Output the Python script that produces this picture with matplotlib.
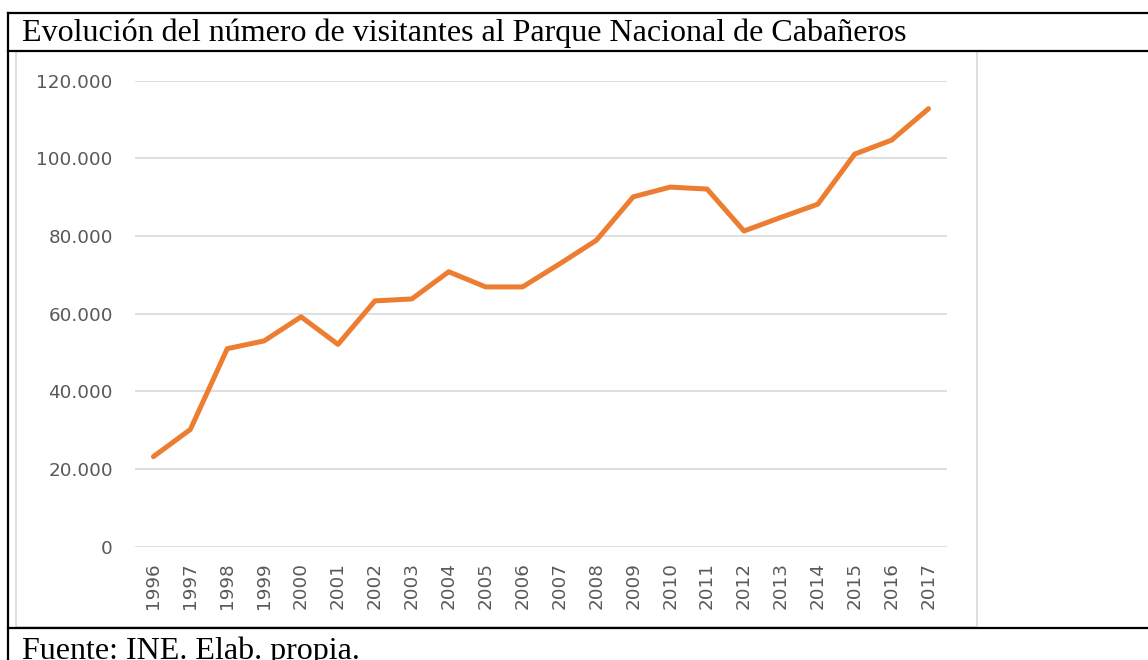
import matplotlib.pyplot as plt
from matplotlib.lines import Line2D
from matplotlib.patches import Rectangle
from matplotlib.ticker import FuncFormatter

# data
years = [str(y) for y in range(1996, 2018)]
visitors = [23200, 30200, 51000, 53000, 59200, 52100, 63300, 63800, 70800, 66900,
            66900, 72800, 78900, 90100, 92600, 92100, 81300, 84800, 88200, 101100,
            104700, 112800]
y_ticks = [0, 20000, 40000, 60000, 80000, 100000, 120000]

title = "Evolución del número de visitantes al Parque Nacional de Cabañeros"
source = "Fuente: INE. Elab. propia."

W, H = 1148, 660
fig = plt.figure(figsize=(W / 100, H / 100), dpi=100)

def fx(px):
    return px / W

def fy(py):
    return 1 - py / H

# chart frame (light gray box, like the embedded Excel chart)
fig.add_artist(Rectangle((fx(16), fy(627)), fx(977) - fx(16), fy(51) - fy(627),
                         transform=fig.transFigure, fill=False,
                         edgecolor="#d9d9d9", linewidth=1.2))

# table borders
for y in (13, 51, 628):
    fig.add_artist(Line2D([fx(8), 1], [fy(y), fy(y)], transform=fig.transFigure,
                          color="black", linewidth=1.6))
fig.add_artist(Line2D([fx(8), fx(8)], [fy(13), 0], transform=fig.transFigure,
                      color="black", linewidth=1.6))

fig.text(fx(22), fy(41), title, family="Liberation Serif", fontsize=23,
         color="black", ha="left", va="baseline")
fig.text(fx(22), fy(659), source, family="Liberation Serif", fontsize=23,
         color="black", ha="left", va="baseline")

ax = fig.add_axes([fx(135), fy(546.7), fx(947) - fx(135), fy(80.7) - fy(546.7)])
x = list(range(len(years)))
ax.plot(x, visitors, color="#ED7D31", linewidth=3.6, solid_capstyle="round",
        solid_joinstyle="round")

ax.set_xlim(-0.5, len(years) - 0.5)
ax.set_ylim(0, 120000)
ax.set_yticks(y_ticks)
ax.yaxis.set_major_formatter(FuncFormatter(lambda v, p: f"{int(v):,}".replace(",", ".")))
ax.set_xticks(x)
ax.set_xticklabels(years, rotation=90)
ax.grid(axis="y", color="#d9d9d9", linewidth=1.2)
ax.set_axisbelow(True)
for s in ax.spines.values():
    s.set_visible(False)
ax.tick_params(axis="both", length=0, colors="#595959", labelsize=13.2)
ax.tick_params(axis="y", pad=16)
ax.tick_params(axis="x", pad=11)
for lbl in ax.get_xticklabels() + ax.get_yticklabels():
    lbl.set_family("DejaVu Sans")

fig.savefig("out.png", dpi=100)
